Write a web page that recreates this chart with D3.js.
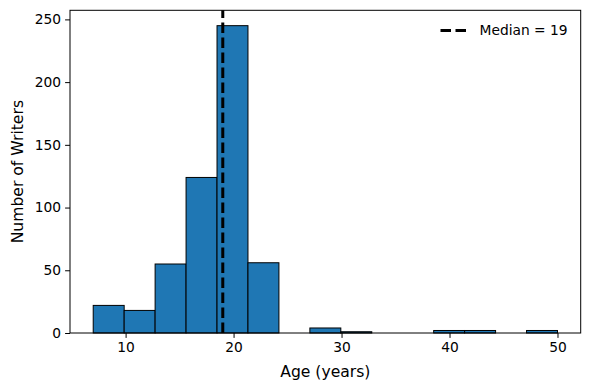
<!DOCTYPE html>
<html lang="en">
<head>
<meta charset="utf-8">
<script src="https://cdn.jsdelivr.net/npm/d3@7"></script>
<style>
  body { margin: 0; background: #fff; }
  text { font-family: "DejaVu Sans", sans-serif; fill: #000; }
</style>
</head>
<body>
<div id="chart"></div>
<script>
// histogram data
const binEdges = [7, 9.867, 12.733, 15.6, 18.467, 21.333, 24.2, 27.067, 29.933, 32.8, 35.667, 38.533, 41.4, 44.267, 47.133, 50]
const counts = [22, 18, 55, 124, 245, 56, 0, 4, 1, 0, 0, 2, 2, 0, 2]
const medianAge = 19
const xTicks = [10, 20, 30, 40, 50]
const yTicks = [0, 50, 100, 150, 200, 250]

const width = 590
const height = 390
const margin = {top: 10.3, right: 9.3, bottom: 57, left: 70}

const svg = d3.select('#chart').append('svg')
    .attr('width', width)
    .attr('height', height)

const bins = counts.map((c, i) => ({x0: binEdges[i], x1: binEdges[i + 1], n: c}))

// matplotlib-style 5% padding on x, top padding on y
const xPad = (binEdges[binEdges.length - 1] - binEdges[0]) * 0.05
const xScale = d3.scaleLinear()
    .domain([binEdges[0] - xPad, binEdges[binEdges.length - 1] + xPad])
    .range([margin.left, width - margin.right])
const yScale = d3.scaleLinear()
    .domain([0, d3.max(counts) * 1.05])
    .range([height - margin.bottom, margin.top])

// bars
svg.append('g')
    .selectAll('rect')
    .data(bins.filter(d => d.n > 0))
    .join('rect')
    .attr('x', d => xScale(d.x0))
    .attr('y', d => yScale(d.n))
    .attr('width', d => xScale(d.x1) - xScale(d.x0))
    .attr('height', d => yScale(0) - yScale(d.n))
    .attr('fill', '#1f77b4')
    .attr('stroke', '#000')
    .attr('stroke-width', 1)

// median line
svg.append('line')
    .attr('x1', xScale(medianAge))
    .attr('x2', xScale(medianAge))
    .attr('y1', yScale.range()[0])
    .attr('y2', yScale.range()[1])
    .attr('stroke', '#000')
    .attr('stroke-width', 3)
    .attr('stroke-dasharray', '10.5,4.5')

// frame
svg.append('rect')
    .attr('x', margin.left)
    .attr('y', margin.top)
    .attr('width', width - margin.left - margin.right)
    .attr('height', height - margin.top - margin.bottom)
    .attr('fill', 'none')
    .attr('stroke', '#000')
    .attr('stroke-width', 1)

// axes
const xAxis = svg.append('g')
    .attr('transform', `translate(0, ${height - margin.bottom})`)
    .call(d3.axisBottom(xScale).tickValues(xTicks).tickSize(4.9).tickPadding(4))
const yAxis = svg.append('g')
    .attr('transform', `translate(${margin.left}, 0)`)
    .call(d3.axisLeft(yScale).tickValues(yTicks).tickSize(4.9).tickPadding(4))
for (const ax of [xAxis, yAxis]) {
    ax.select('.domain').remove()
    ax.selectAll('text').attr('font-size', 13.8).attr('font-family', 'DejaVu Sans')
    ax.selectAll('line').attr('stroke', '#000')
}

// axis labels
svg.append('text')
    .attr('x', (margin.left + width - margin.right) / 2)
    .attr('y', 377)
    .attr('text-anchor', 'middle')
    .attr('font-size', 15.6)
    .text('Age (years)')
svg.append('text')
    .attr('transform', `translate(23, ${(margin.top + height - margin.bottom) / 2}) rotate(-90)`)
    .attr('text-anchor', 'middle')
    .attr('font-size', 15.6)
    .text('Number of Writers')

// legend
const legend = svg.append('g').attr('transform', 'translate(440.5, 30.5)')
legend.append('line')
    .attr('x1', 0).attr('x2', 29)
    .attr('stroke', '#000')
    .attr('stroke-width', 3)
    .attr('stroke-dasharray', '10.5,4.5')
legend.append('text')
    .attr('x', 39)
    .attr('y', 4.8)
    .attr('font-size', 13.8)
    .text(`Median = ${medianAge}`)
</script>
</body>
</html>
